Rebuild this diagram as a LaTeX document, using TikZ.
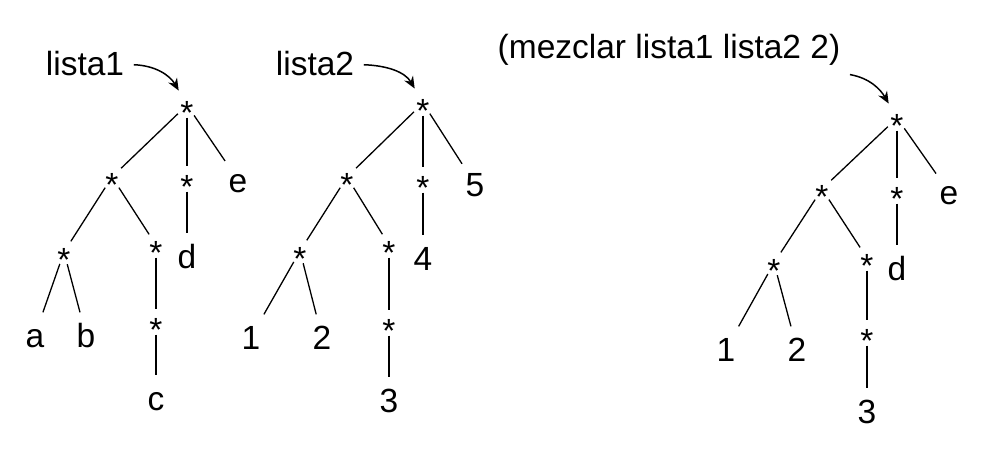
\documentclass[tikz,border=0pt]{standalone}
\usepackage{fontspec}
\setmainfont{Liberation Sans}
\usetikzlibrary{arrows.meta}
\newcommand{\nodo}{\raisebox{-.42em}{*}}
\begin{document}
\begin{tikzpicture}[x=1pt, y=1pt, line width=1.3pt, estrella/.style={circle,inner sep=0pt,minimum size=24pt,text height=10pt,text depth=0pt}, hoja/.style={anchor=base,text height=24pt,text depth=0pt,inner xsep=3pt,inner ysep=10pt}, etiqueta/.style={anchor=base,inner sep=9pt}, flecha/.style={-{Stealth[length=12pt,width=10pt]},line width=1.5pt,shorten >=4pt}]
\useasboundingbox (0,0) rectangle (990,-458);
\begin{scope}[every node/.style={font=\fontsize{33.5}{40}\selectfont}]
% lista1
\node[etiqueta] (l1) at (85,-75) {lista1};
\node[estrella] (r1) at (187,-105) {\nodo};
\node[estrella] (p1) at (112,-177) {\nodo};
\node[estrella] (q1) at (187,-179) {\nodo};
\node[hoja] (e1) at (238,-192) {e};
\node[estrella] (s1) at (64,-252) {\nodo};
\node[estrella] (u1) at (156,-245) {\nodo};
\node[hoja] (d1) at (187,-268) {d};
\node[hoja] (a1) at (35,-347) {a};
\node[hoja] (b1) at (86,-347) {b};
\node[estrella] (v1) at (156,-322) {\nodo};
\node[hoja] (c1) at (156,-410) {c};
% lista2
\node[etiqueta] (l2) at (315,-75) {lista2};
\node[estrella] (r2) at (423,-103) {\nodo};
\node[estrella] (p2) at (347,-177) {\nodo};
\node[estrella] (q2) at (423,-180) {\nodo};
\node[hoja] (k5) at (475,-196) {5};
\node[estrella] (s2) at (300,-251) {\nodo};
\node[estrella] (u2) at (389,-245) {\nodo};
\node[hoja] (k4) at (423,-270) {4};
\node[hoja] (k1) at (251,-349) {1};
\node[hoja] (k2) at (322,-349) {2};
\node[estrella] (v2) at (389,-323) {\nodo};
\node[hoja] (k3) at (389,-412) {3};
% mezcla
\node[etiqueta] (mz) at (669,-58) {(mezclar lista1 lista2 2)};
\node[estrella] (r3) at (897,-118) {\nodo};
\node[estrella] (p3) at (822,-189) {\nodo};
\node[estrella] (q3) at (897,-191) {\nodo};
\node[hoja] (e3) at (949,-204) {e};
\node[estrella] (s3) at (774,-263) {\nodo};
\node[estrella] (u3) at (867,-258) {\nodo};
\node[hoja] (d3) at (897,-280) {d};
\node[hoja] (m1) at (726,-361) {1};
\node[hoja] (m2) at (797,-361) {2};
\node[estrella] (v3) at (867,-333) {\nodo};
\node[hoja] (m3) at (867,-423) {3};
\end{scope}
\draw[flecha] (l1) to[out=-2,in=120] (r1);
\draw[flecha] (l2) to[out=-2,in=120] (r2);
\draw[flecha] (mz.south east) to[out=-10,in=120] (r3);
\begin{scope}[every edge/.style={draw=black,line width=1.3pt}]
\draw (r1) edge (p1);
\draw (r1) edge (q1);
\draw (r1) edge (e1);
\draw (p1) edge (s1);
\draw (p1) edge (u1);
\draw (q1) edge (d1);
\draw (s1) edge (a1);
\draw (s1) edge (b1);
\draw (u1) edge (v1);
\draw (v1) edge (c1);
%
\draw (r2) edge (p2);
\draw (r2) edge (q2);
\draw (r2) edge (k5);
\draw (p2) edge (s2);
\draw (p2) edge (u2);
\draw (q2) edge (k4);
\draw (s2) edge (k1);
\draw (s2) edge (k2);
\draw (u2) edge (v2);
\draw (v2) edge (k3);
%
\draw (r3) edge (p3);
\draw (r3) edge (q3);
\draw (r3) edge (e3);
\draw (p3) edge (s3);
\draw (p3) edge (u3);
\draw (q3) edge (d3);
\draw (s3) edge (m1);
\draw (s3) edge (m2);
\draw (u3) edge (v3);
\draw (v3) edge (m3);
\end{scope}
\end{tikzpicture}
\end{document}
